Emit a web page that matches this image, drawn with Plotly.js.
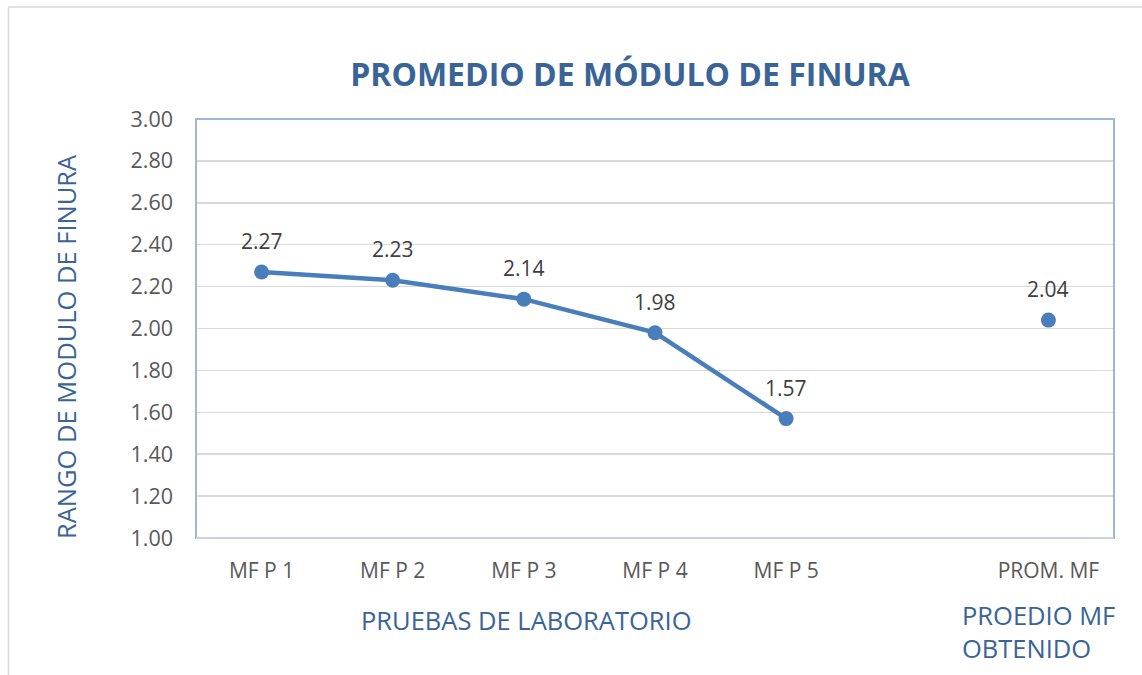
<!DOCTYPE html>
<html>
<head>
<meta charset="utf-8">
<script src="https://cdn.plot.ly/plotly-3.0.1.min.js"></script>
<style>html,body{margin:0;padding:0;background:#fff;}#chart{width:1142px;height:675px;}</style>
</head>
<body>
<div id="chart"></div>
<script>
const categories = ["MF P 1", "MF P 2", "MF P 3", "MF P 4", "MF P 5", " ", "PROM. MF"];
const pruebas = ["MF P 1", "MF P 2", "MF P 3", "MF P 4", "MF P 5"];
const pruebasValues = [2.27, 2.23, 2.14, 1.98, 1.57];
const promCategory = ["PROM. MF"];
const promValue = [2.04];
const yTicks = [1.0, 1.2, 1.4, 1.6, 1.8, 2.0, 2.2, 2.4, 2.6, 2.8, 3.0];

const blue = "#4A7EBB";
const titleBlue = "#3A6496";
const font = "Open Sans, Liberation Sans, sans-serif";

const traces = [
  {
    x: pruebas, y: pruebasValues, type: "scatter", mode: "lines+markers",
    line: {color: blue, width: 4.5},
    marker: {color: blue, size: 15},
    cliponaxis: false, hoverinfo: "x+y"
  },
  {
    x: promCategory, y: promValue, type: "scatter", mode: "markers",
    marker: {color: blue, size: 15},
    cliponaxis: false, hoverinfo: "x+y"
  }
];

const labelAnn = (xs, ys) => xs.map((x, i) => ({
  x: x, y: ys[i], xref: "x", yref: "y", text: ys[i].toFixed(2),
  showarrow: false, yshift: 31, xanchor: "center", yanchor: "middle",
  font: {family: font, size: 21, color: "#404040"}
}));

const layout = {
  width: 1142, height: 675,
  margin: {l: 196, r: 28, t: 119, b: 137},
  paper_bgcolor: "#ffffff", plot_bgcolor: "#ffffff",
  showlegend: false,
  font: {family: font, color: "#595959"},
  title: {
    text: "<b>PROMEDIO DE MÓDULO DE FINURA</b>",
    font: {family: font, size: 32, color: titleBlue},
    x: 630 / 1142, xref: "container", xanchor: "center",
    y: 1 - 75 / 675, yref: "container", yanchor: "middle"
  },
  xaxis: {
    type: "category", categoryorder: "array", categoryarray: categories,
    range: [-0.5, 6.5],
    tickvals: categories, ticktext: categories,
    showgrid: false, zeroline: false, showline: false,
    ticks: "", tickfont: {family: font, size: 21, color: "#595959"},
    ticklabelstandoff: 18,
    fixedrange: true
  },
  yaxis: {
    range: [1.0, 3.0], tickvals: yTicks, ticktext: yTicks.map(v => v.toFixed(2)),
    showgrid: true, gridcolor: "#D9D9D9", gridwidth: 1.5,
    zeroline: false, showline: false, ticks: "",
    tickfont: {family: font, size: 21.5, color: "#595959"},
    ticklabelstandoff: 22,
    fixedrange: true
  },
  annotations: labelAnn(pruebas, pruebasValues).concat(labelAnn(promCategory, promValue)).concat([
    {
      text: "PRUEBAS DE LABORATORIO", xref: "paper", yref: "paper",
      x: (526 - 196) / 918, y: (538 - 620) / 419, xanchor: "center", yanchor: "middle",
      showarrow: false, font: {family: font, size: 25.5, color: titleBlue}
    },
    {
      text: "RANGO DE MODULO DE FINURA", xref: "paper", yref: "paper",
      x: (66 - 196) / 918, y: (538 - 347) / 419, xanchor: "center", yanchor: "middle",
      textangle: -90, showarrow: false, font: {family: font, size: 25.5, color: titleBlue}
    },
    {
      text: "PROEDIO MF<br>OBTENIDO", xref: "paper", yref: "paper",
      x: (960 - 196) / 918, y: (538 - 631) / 419, xanchor: "left", yanchor: "middle",
      align: "left", showarrow: false,
      font: {family: font, size: 25.5, color: titleBlue}
    }
  ]),
  shapes: [
    {type: "rect", xref: "paper", yref: "paper", x0: 0, x1: 1, y0: 0, y1: 1,
     line: {color: "#9DB7DA", width: 2}, layer: "above"},
    {type: "line", xref: "paper", yref: "paper", x0: 0, x1: 1, y0: 0, y1: 0,
     line: {color: "#C9D3DE", width: 2}, layer: "above"},
    {type: "line", xref: "paper", yref: "paper",
     x0: (8.5 - 196) / 918, x1: (8.5 - 196) / 918, y0: (538 - 7) / 419, y1: (538 - 700) / 419,
     line: {color: "#D9D9D9", width: 1.5}},
    {type: "line", xref: "paper", yref: "paper",
     x0: (8.5 - 196) / 918, x1: (1160 - 196) / 918, y0: (538 - 7) / 419, y1: (538 - 7) / 419,
     line: {color: "#D9D9D9", width: 1.5}}
  ]
};

Plotly.newPlot("chart", traces, layout, {displayModeBar: false, staticPlot: true});
</script>
</body>
</html>
